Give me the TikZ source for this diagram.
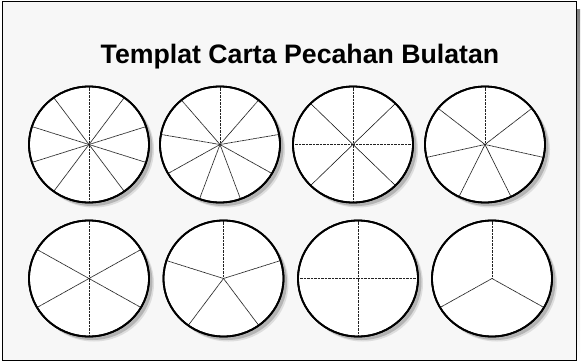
\documentclass[tikz,border=0pt]{standalone}
\usepackage{fontspec}
\setmainfont{Liberation Sans}
\usepackage{tikz}
\usetikzlibrary{positioning,calc}
\definecolor{ink}{HTML}{000000}
\definecolor{panel}{HTML}{F7F7F7}
\definecolor{shade}{HTML}{B4B4B4}
\definecolor{spoke}{HTML}{222222}

\begin{document}
\begin{tikzpicture}[x=1pt,y=-1pt,
    rim/.style={draw=ink,line width=1.8pt,fill=white},
    spokeline/.style={draw=spoke,line width=0.7pt,dash pattern=on 1pt off 0.4pt},
    pieshadow/.style={fill=shade}]
  \useasboundingbox (0,0) rectangle (581,362);
  % frame and its shadow
  \fill[shade] (577,9) rectangle (580,362);
  \draw[ink,line width=0.9pt,fill=panel] (2,1) rectangle (576,360);
  \node[font=\bfseries\fontsize{26.7}{32}\selectfont,anchor=base] (title) at (300,63) {Templat Carta Pecahan Bulatan};
  % the eight fraction circles
  \foreach \cx/\cy/\n/\k in {89/144.5/10/a,220/144.5/9/b,353/144.5/8/c,485/144.5/7/d,
                             89/278.5/6/e,223.5/278.5/5/f,358/278.5/4/g,492/278.5/3/h}{
    \coordinate (c\k) at (\cx,\cy);
    \fill[shade!45] ($(c\k)+(5,5)$) ellipse [x radius=60pt,y radius=58pt];
    \fill[pieshadow] ($(c\k)+(3.5,3.5)$) ellipse [x radius=60pt,y radius=58pt];
    \draw[rim] (c\k) ellipse [x radius=60pt,y radius=58pt];
    \foreach \i in {1,...,\n}
      \draw[spokeline] (c\k) -- ++({90+(\i-1)*360/\n}:60pt and 58pt);
    \draw[ink,line width=1.8pt] (c\k) ellipse [x radius=60pt,y radius=58pt];
  }
\end{tikzpicture}
\end{document}
